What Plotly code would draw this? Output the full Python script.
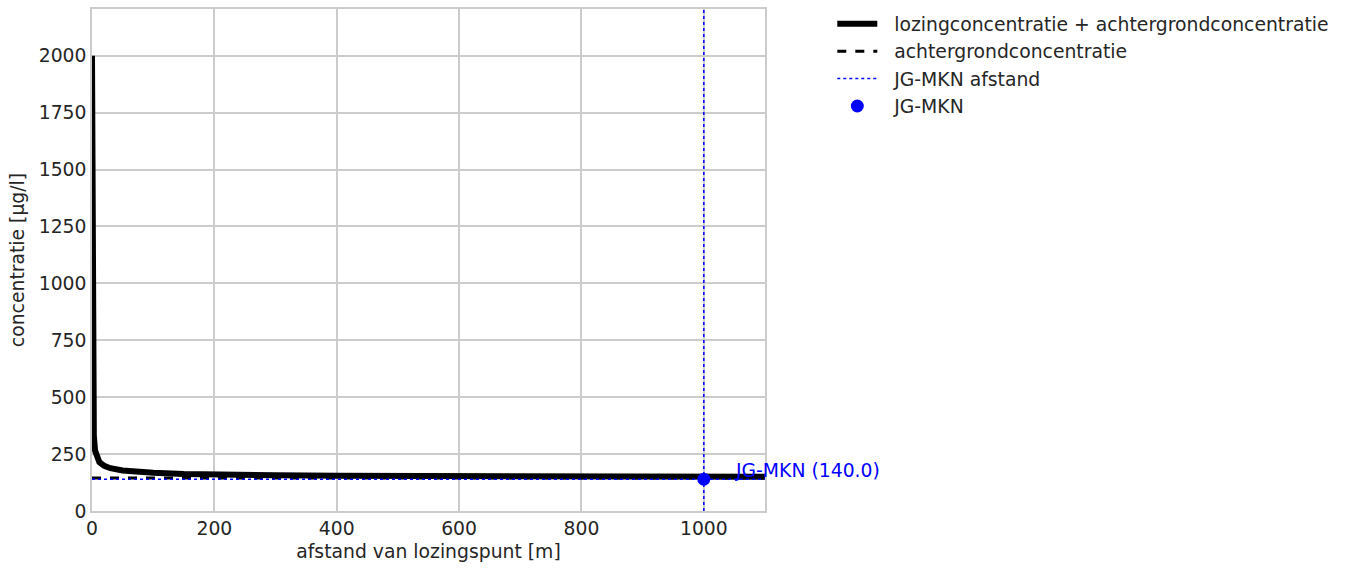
import plotly.graph_objects as go

# Distance from discharge point [m] and total concentration [µg/l]
afstand = [0, 0.5, 1, 2, 3, 5, 8, 12, 20, 30, 50, 75, 100, 150, 200,
           300, 400, 500, 600, 700, 800, 900, 1000, 1100]
concentratie_totaal = [2000, 1100, 700, 420, 330, 265, 235, 215, 198, 188,
                       178, 172, 168, 163, 160, 157, 155, 154, 153, 152,
                       152, 151, 151, 150]

achtergrond = 145.0          # background concentration [µg/l]
jg_mkn = 140.0               # JG-MKN norm [µg/l]
jg_mkn_afstand = 1000.0      # distance where the norm is reached [m]
x_max = 1100
y_max = 2205

font = "DejaVu Sans"
txt = "#262626"
fs = 18.8

fig = go.Figure()

fig.add_trace(go.Scatter(
    x=afstand, y=concentratie_totaal, mode="lines",
    line=dict(color="black", width=6),
    name="  lozingconcentratie + achtergrondconcentratie"))

fig.add_trace(go.Scatter(
    x=[0, x_max], y=[achtergrond, achtergrond], mode="lines",
    line=dict(color="black", width=3, dash="dash"),
    name="  achtergrondconcentratie"))

fig.add_trace(go.Scatter(
    x=[jg_mkn_afstand, jg_mkn_afstand], y=[0, y_max], mode="lines",
    line=dict(color="blue", width=1.5, dash="dot"),
    name="  JG-MKN afstand"))

fig.add_trace(go.Scatter(
    x=[0, x_max], y=[jg_mkn, jg_mkn], mode="lines",
    line=dict(color="blue", width=1.5, dash="dot"),
    showlegend=False, hoverinfo="skip"))

fig.add_trace(go.Scatter(
    x=[jg_mkn_afstand], y=[jg_mkn], mode="markers",
    marker=dict(color="blue", size=13),
    name="  JG-MKN", cliponaxis=False))

fig.add_annotation(
    x=jg_mkn_afstand + 48, y=jg_mkn, text=f"JG-MKN ({jg_mkn:.1f})",
    showarrow=False, xanchor="left", yanchor="bottom", yshift=-4,
    font=dict(family=font, size=fs, color="blue"))

axis_common = dict(
    showgrid=True, gridcolor="#cccccc", gridwidth=1.5,
    showline=True, linecolor="#cccccc", linewidth=1.5, mirror=True,
    zeroline=False, ticks="", tickfont=dict(family=font, size=fs, color=txt),
)

fig.update_xaxes(range=[0, x_max], tickvals=[0, 200, 400, 600, 800, 1000],
                 title=dict(text="afstand van lozingspunt [m]",
                            font=dict(family=font, size=fs, color=txt), standoff=7),
                 **axis_common)
fig.update_yaxes(range=[0, y_max],
                 tickvals=[0, 250, 500, 750, 1000, 1250, 1500, 1750, 2000],
                 title=dict(text="concentratie [µg/l]",
                            font=dict(family=font, size=fs, color=txt), standoff=9),
                 **axis_common)

fig.update_layout(
    width=1348, height=568,
    margin=dict(l=92, r=583, t=9, b=57, autoexpand=False),
    paper_bgcolor="white", plot_bgcolor="white",
    font=dict(family=font, size=fs, color=txt),
    legend=dict(x=1.1, y=1.008, xanchor="left", yanchor="top",
                bgcolor="rgba(0,0,0,0)", font=dict(family=font, size=fs, color=txt),
                tracegroupgap=0, itemwidth=40),
    showlegend=True,
)

fig.write_html("out.html")
